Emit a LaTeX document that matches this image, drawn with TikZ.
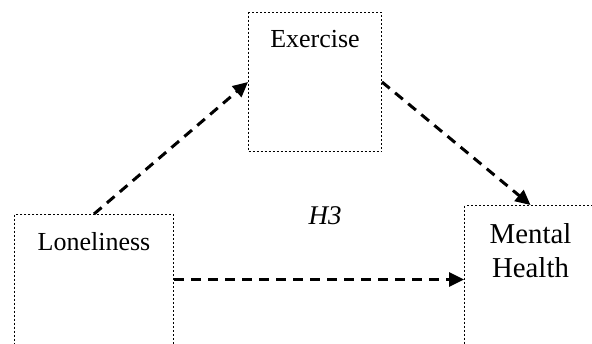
\documentclass[tikz,border=0pt]{standalone}
\usepackage{fontspec}
\setmainfont{Liberation Serif}
\usepackage{tikz}
\usetikzlibrary{arrows.meta,positioning}

\begin{document}
\begin{tikzpicture}[x=0.5pt,y=-0.5pt,
    varbox/.style={draw, line width=0.5pt, dash pattern=on 1pt off 1pt,
        inner sep=0pt, anchor=north west},
    path/.style={line width=1.5pt, dash pattern=on 5pt off 3.5pt,
        -{Triangle[length=7.5pt,width=7pt]}},
    lbl/.style={anchor=north, inner sep=0pt, font=\fontsize{13}{16}\selectfont}]

    % Page frame
    \clip (0,0) rectangle (592,343);

    % Draw variable boxes
    \node[varbox, minimum width=79.5pt, minimum height=65pt] (lone) at (14,214) {};
    \node[varbox, minimum width=66.5pt, minimum height=69.5pt] (exer) at (248,12) {};
    \node[varbox, minimum width=66pt, minimum height=74pt] (ment) at (464,205) {};

    % Box labels
    \node[lbl] at ([yshift=-9pt]lone.north) {Loneliness};
    \node[lbl] at ([yshift=-9pt]exer.north) {Exercise};
    \node[lbl, align=center, font=\fontsize{14.4}{17}\selectfont] at ([yshift=-9pt]ment.north) {Mental\\Health};

    % Draw paths
    \draw[path] (lone.north) -- (exer.west);
    \draw[path] (exer.east) -- (ment.north);
    \draw[path] (lone.east) -- (ment.west);

    % Hypothesis label
    \node[font=\fontsize{13.5}{16}\selectfont\itshape] (hyp) at (325,216) {H3};
\end{tikzpicture}
\end{document}
